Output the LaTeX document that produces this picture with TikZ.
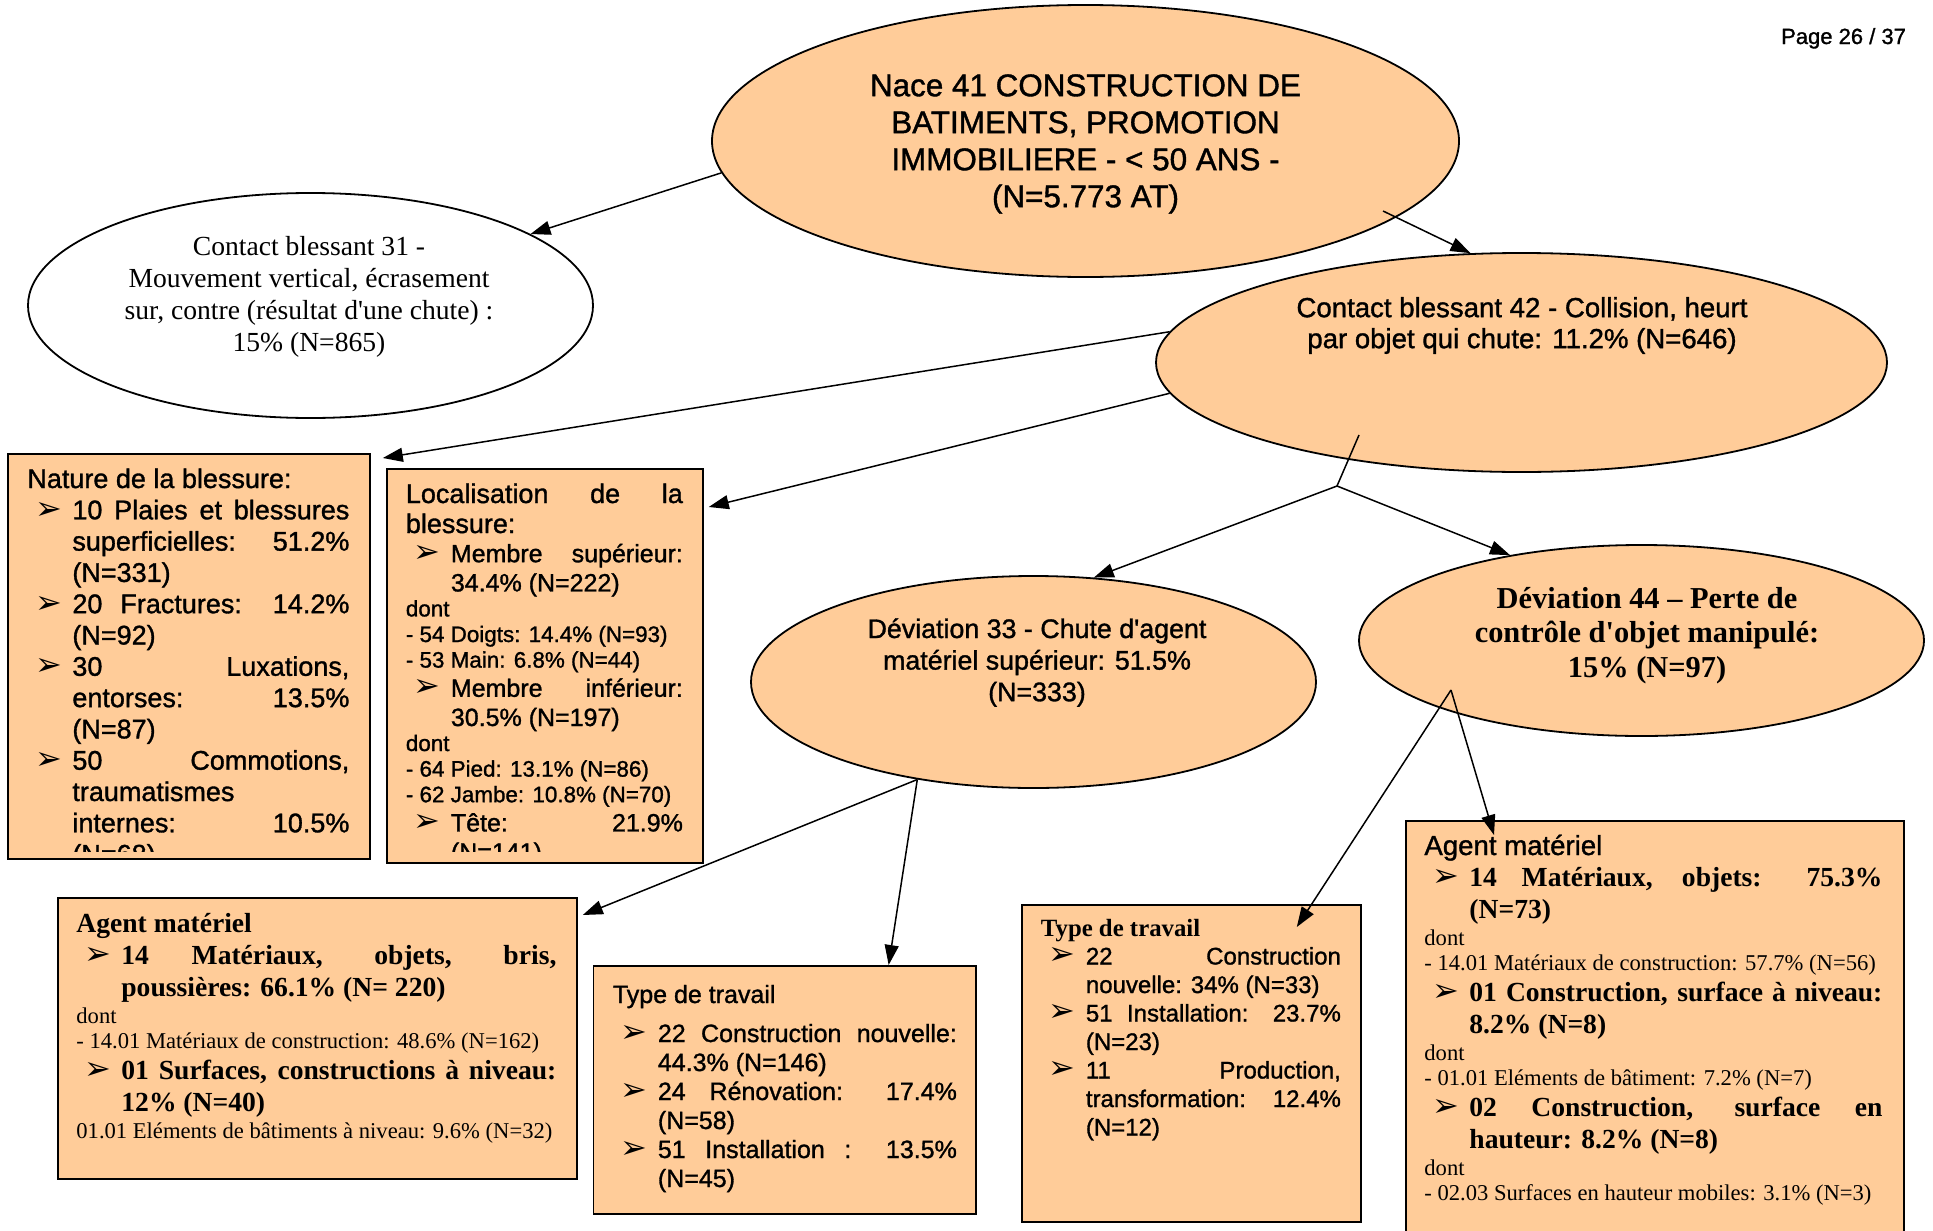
\documentclass[tikz,border=0pt]{standalone}
\usepackage{fontspec}
\setmainfont{Liberation Sans}[FakeBold=1.2]
\newfontfamily\tms{Liberation Serif}
\newfontfamily\dingfont{DejaVu Sans}
\usetikzlibrary{shapes.geometric,arrows.meta}
\definecolor{peach}{HTML}{FFCC99}
\newcommand{\setsz}[2]{\fontsize{#1}{#2}\selectfont}
\newcommand{\bul}{{\dingfont\fontsize{16}{16}\selectfont ➢}}
\newcommand{\itm}[2]{#1\hangindent=22.5pt\hangafter=1\noindent\makebox[22.5pt][l]{\hspace{4pt}\bul}#2\par}
\newcommand{\txt}[2]{#1\noindent#2\par}
\newcommand{\q}{\textquotesingle}
\tikzset{
  bubble/.style={ellipse, draw, fill=peach, line width=0.9pt, inner sep=0pt},
  panel/.style={rectangle, draw, fill=peach, line width=0.9pt, anchor=north west, inner sep=0pt},
  paneltext/.style={anchor=base west, inner sep=0pt, align=justify, text width=#1,
    execute at begin node={\parskip=0pt\tolerance=10000\hbadness=10000}},
  link/.style={-{Triangle[length=10pt,width=7pt]}, line width=0.75pt}
}
\begin{document}
\begin{tikzpicture}[x=0.5pt,y=-0.5pt]
\useasboundingbox (0,0) rectangle (1933,1231);
\clip (0,0) rectangle (1933,1231);
\node[anchor=base east, font=\setsz{11}{13}] (page) at (1913,44) {Page 26 / 37};
% ellipses
\node[bubble, minimum width=373.5pt, minimum height=136pt] (nace) at (1085.5,141) {};
\node[align=center, font=\setsz{15.7}{18.5}] (nace-t) at (1085.5,144) {Nace 41 CONSTRUCTION DE\\BATIMENTS, PROMOTION\\IMMOBILIERE - < 50 ANS -\\(N=5.773 AT)};
\node[bubble, fill=white, minimum width=282.5pt, minimum height=112.5pt] (c31) at (310.5,305.5) {};
\node[align=center, font=\tms\setsz{13.8}{16}] (c31-t) at (309,297) {Contact blessant 31 -\\Mouvement vertical, écrasement\\sur, contre (résultat d\q une chute) :\\15\% (N=865)};
\node[bubble, minimum width=365.5pt, minimum height=109.5pt] (c42) at (1521.5,362.5) {};
\node[align=center, font=\setsz{13.8}{15.5}] (c42-t) at (1522,325.5) {Contact blessant 42 - Collision, heurt\\par objet qui chute: 11.2\% (N=646)};
\node[bubble, minimum width=282.5pt, minimum height=106pt] (dev33) at (1033.5,682) {};
\node[align=center, font=\setsz{13.4}{15.8}] (dev33-t) at (1037,662.5) {Déviation 33 - Chute d\q agent\\matériel supérieur: 51.5\%\\(N=333)};
\node[bubble, minimum width=282.5pt, minimum height=95.5pt] (dev44) at (1641.5,640.5) {};
\node[align=center, font=\tms\bfseries\setsz{15.2}{17.2}] (dev44-t) at (1647,635.5) {Déviation 44 – Perte de\\contrôle d\q objet manipulé:\\15\% (N=97)};
% boxes
\node[panel, minimum width=181pt, minimum height=202.5pt] (nature) at (7,453) {};
\begin{scope}
\clip ([yshift=4pt]nature.south west) rectangle (nature.north east);
\node[paneltext=161pt] (nature-t) at (27,488) {%
\txt{\setsz{13.5}{15.65}}{Nature de la blessure:}%
\itm{}{10 Plaies et blessures\linebreak superficielles: 51.2\%\linebreak (N=331)}%
\itm{}{20 Fractures: 14.2\%\linebreak (N=92)}%
\itm{}{30 Luxations,\linebreak entorses: 13.5\%\linebreak (N=87)}%
\itm{}{50 Commotions,\linebreak traumatismes\linebreak internes: 10.5\%\linebreak (N=68)}};
\end{scope}
\node[panel, minimum width=158pt, minimum height=197pt] (loc) at (386,468) {};
\begin{scope}
\clip ([yshift=6pt]loc.south west) rectangle (loc.north east);
\node[paneltext=138.5pt] (loc-t) at (405.5,503) {%
\txt{\setsz{13.5}{15}}{Localisation de la\linebreak blessure:}%
\itm{\setsz{12.5}{14.6}}{Membre supérieur:\linebreak 34.4\% (N=222)}%
\txt{\setsz{11.2}{12.5}}{dont}%
\txt{\setsz{11.2}{12.8}}{- 54 Doigts: 14.4\% (N=93)}%
\txt{}{- 53 Main: 6.8\% (N=44)}%
\itm{\setsz{12.5}{14.6}}{Membre inférieur:\linebreak 30.5\% (N=197)}%
\txt{\setsz{11.2}{12.5}}{dont}%
\txt{\setsz{11.2}{12.8}}{- 64 Pied: 13.1\% (N=86)}%
\txt{}{- 62 Jambe: 10.8\% (N=70)}%
\itm{\setsz{12.5}{14.6}}{Tête: 21.9\%\linebreak (N=141)}};
\end{scope}
\node[panel, minimum width=259.5pt, minimum height=140.5pt] (agentL) at (57,897) {};
\node[paneltext=240pt] (agentL-t) at (76,932) {%
\txt{\tms\bfseries\setsz{13.8}{16}}{Agent matériel}%
\itm{}{14 Matériaux, objets, bris,\linebreak poussières: 66.1\% (N= 220)}%
\txt{\mdseries\setsz{11.3}{13.5}}{dont}%
\txt{\setsz{11.3}{12.5}}{- 14.01 Matériaux de construction: 48.6\% (N=162)}%
\itm{\bfseries\setsz{13.8}{15.8}}{01 Surfaces, constructions à niveau:\linebreak 12\% (N=40)}%
\txt{\mdseries\setsz{11.3}{13.5}}{01.01 Eléments de bâtiments à niveau: 9.6\% (N=32)}};
\node[panel, minimum width=191.25pt, minimum height=124pt] (typeL) at (592.5,965) {};
\node[paneltext=172pt] (typeL-t) at (612.5,1003) {%
\txt{\setsz{12.5}{14.5}}{Type de travail}%
\vspace{5pt}%
\itm{}{22 Construction nouvelle:\linebreak 44.3\% (N=146)}%
\itm{}{24 Rénovation: 17.4\%\linebreak (N=58)}%
\itm{}{51 Installation : 13.5\%\linebreak (N=45)}};
\node[panel, minimum width=169.5pt, minimum height=158.5pt] (typeR) at (1021,904) {};
\node[paneltext=150pt] (typeR-t) at (1040.5,936) {%
\txt{\tms\bfseries\setsz{12.4}{14.25}}{Type de travail}%
\itm{\rmfamily\mdseries\setsz{12}{14.25}}{22 Construction\linebreak nouvelle: 34\% (N=33)}%
\itm{}{51 Installation: 23.7\%\linebreak (N=23)}%
\itm{}{11 Production,\linebreak transformation: 12.4\%\linebreak (N=12)}};
\node[panel, minimum width=249pt, minimum height=210pt] (agentR) at (1405,820) {};
\node[paneltext=229pt] (agentR-t) at (1424,855) {%
\txt{\setsz{13.8}{16}}{Agent matériel}%
\itm{\tms\bfseries\setsz{13.8}{15.75}}{14 Matériaux, objets: 75.3\%\linebreak (N=73)}%
\txt{\mdseries\setsz{11.3}{13.5}}{dont}%
\txt{\setsz{11.3}{12.5}}{- 14.01 Matériaux de construction: 57.7\% (N=56)}%
\itm{\bfseries\setsz{13.8}{15.75}}{01 Construction, surface à niveau:\linebreak 8.2\% (N=8)}%
\txt{\mdseries\setsz{11.3}{13.5}}{dont}%
\txt{\setsz{11.3}{12.5}}{- 01.01 Eléments de bâtiment: 7.2\% (N=7)}%
\itm{\bfseries\setsz{13.8}{15.75}}{02 Construction, surface en\linebreak hauteur: 8.2\% (N=8)}%
\txt{\mdseries\setsz{11.3}{13.5}}{dont}%
\txt{\setsz{11.3}{12.5}}{- 02.03 Surfaces en hauteur mobiles: 3.1\% (N=3)}};
% connectors
\coordinate (nace-out) at (1383,211);
\coordinate (c42in) at (1359,435);
\coordinate (fork) at (1337,486);
\coordinate (d44in) at (1451,690);
\draw[link] (nace.185) -- (c31.18);
\draw[link] (nace-out) -- (c42.115);
\draw[link] (c42.175) -- ([xshift=6pt,yshift=-2.5pt]nature.north east);
\draw[link] (c42.185) -- ([xshift=2.5pt,yshift=-19.5pt]loc.north east);
\draw[line width=0.75pt] (c42in) -- (fork);
\draw[link] (fork) -- (dev33.60);
\draw[link] (fork) -- (dev44.147);
\draw[link] (dev33.220) -- ([xshift=2.5pt,yshift=-9pt]agentL.north east);
\draw[link] (dev33.220) -- ([xshift=52pt]typeL.north);
\draw[link] (d44in) -- ([xshift=-32.5pt,yshift=-11.5pt]typeR.north east);
\draw[link] (d44in) -- ([xshift=44.5pt,yshift=-7.5pt]agentR.north west);
\end{tikzpicture}
\end{document}
